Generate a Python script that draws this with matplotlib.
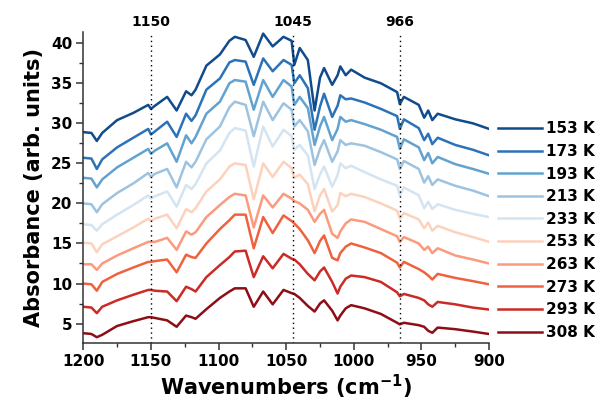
import matplotlib

matplotlib.use("Agg")
import matplotlib.pyplot as plt
from matplotlib.ticker import MultipleLocator

# Wavenumber grid (cm^-1) and absorbance
wavenumbers = [1200, 1194, 1190, 1186, 1175, 1163, 1152, 1150, 1147, 1138,
               1131, 1124, 1120, 1117, 1109, 1099, 1092, 1088, 1080, 1074,
               1067, 1060, 1052, 1046, 1044, 1040, 1034, 1029, 1025, 1022,
               1016, 1012, 1010, 1006, 1002, 992, 980, 968, 966, 963,
               952, 948, 945, 942, 938, 925, 912, 900]

abs_153 = [28.9, 28.8, 27.8, 28.8, 30.4, 31.3, 32.3, 31.8, 32.2, 33.3,
           31.6, 34.0, 33.5, 34.2, 37.2, 38.6, 40.3, 40.8, 40.4, 38.3,
           41.2, 39.6, 40.8, 40.3, 37.3, 39.4, 37.9, 31.6, 35.7, 36.9,
           34.8, 36.0, 37.1, 36.0, 36.7, 35.7, 35.0, 33.9, 32.4, 33.3,
           32.3, 30.7, 31.6, 30.4, 31.2, 30.5, 30.0, 29.3]
abs_173 = [25.7, 25.6, 24.3, 25.5, 27.0, 28.2, 29.3, 28.6, 29.0, 30.2,
           28.3, 31.2, 30.3, 31.0, 34.2, 35.6, 37.6, 37.9, 37.7, 34.8,
           38.1, 36.5, 37.9, 37.3, 35.0, 36.0, 34.4, 29.2, 32.1, 33.7,
           30.8, 32.2, 33.5, 33.0, 33.1, 32.6, 31.8, 30.9, 29.3, 30.5,
           29.4, 27.9, 28.7, 27.4, 28.2, 27.3, 26.7, 26.0]
abs_193 = [23.2, 23.1, 22.0, 23.0, 24.5, 25.7, 26.8, 26.2, 26.6, 27.5,
           25.2, 28.5, 27.5, 28.3, 31.2, 32.7, 35.0, 35.4, 35.2, 31.7,
           35.4, 33.3, 35.4, 34.6, 32.3, 33.3, 31.9, 27.3, 29.6, 30.8,
           27.9, 29.3, 30.8, 30.2, 30.4, 29.9, 29.2, 28.3, 26.8, 28.0,
           27.0, 25.4, 26.3, 25.0, 25.8, 24.9, 24.3, 23.7]
abs_213 = [20.0, 19.9, 18.9, 19.9, 21.3, 22.5, 23.8, 23.3, 23.7, 24.3,
           22.0, 25.2, 24.5, 25.2, 28.0, 29.6, 32.0, 32.7, 32.3, 28.4,
           32.7, 30.4, 32.5, 31.7, 29.6, 30.4, 29.0, 24.8, 26.8, 27.9,
           25.2, 26.5, 27.9, 27.3, 27.5, 27.2, 26.4, 25.5, 24.3, 25.3,
           24.3, 22.6, 23.4, 22.3, 23.0, 22.2, 21.6, 20.9]
abs_233 = [17.4, 17.3, 16.6, 17.4, 18.6, 19.8, 21.0, 20.6, 20.9, 21.5,
           19.6, 22.3, 21.8, 22.4, 25.0, 26.6, 28.8, 29.4, 29.1, 24.6,
           29.6, 27.1, 29.2, 28.4, 26.7, 27.3, 26.0, 21.8, 23.6, 24.6,
           22.1, 23.5, 25.0, 24.4, 24.7, 23.9, 23.0, 22.2, 21.0, 22.0,
           21.0, 19.4, 20.2, 19.3, 19.9, 19.2, 18.7, 18.3]
abs_253 = [15.1, 15.0, 13.9, 14.9, 15.9, 17.0, 18.1, 17.8, 18.1, 18.6,
           16.9, 19.3, 18.9, 19.4, 21.5, 23.0, 24.6, 25.0, 24.8, 20.5,
           25.0, 23.3, 25.2, 24.4, 23.2, 23.6, 22.4, 19.0, 21.0, 21.8,
           19.0, 19.8, 21.3, 20.9, 21.2, 20.8, 20.0, 19.1, 18.1, 18.8,
           18.0, 16.9, 17.6, 16.6, 17.2, 16.4, 15.8, 15.2]
abs_263 = [12.4, 12.4, 11.7, 12.5, 13.5, 14.4, 15.2, 15.2, 15.2, 15.7,
           14.2, 16.5, 16.1, 16.4, 18.3, 19.8, 20.8, 21.2, 21.0, 17.0,
           21.0, 19.5, 21.2, 20.6, 20.3, 20.0, 19.2, 17.7, 18.7, 19.2,
           16.2, 15.7, 16.5, 17.5, 18.0, 17.7, 16.8, 15.9, 15.2, 15.8,
           15.0, 14.2, 14.6, 13.8, 14.4, 13.5, 13.0, 12.5]
abs_273 = [10.0, 9.9, 9.1, 10.2, 11.2, 12.0, 12.7, 12.7, 12.8, 13.0,
           11.4, 13.6, 13.3, 13.2, 15.0, 16.8, 17.9, 18.6, 18.6, 14.4,
           18.3, 16.3, 18.5, 17.8, 17.5, 16.8, 15.4, 13.8, 15.3, 16.0,
           13.2, 12.9, 13.8, 14.6, 15.0, 14.5, 13.8, 12.6, 12.0, 12.7,
           11.8, 11.4, 11.0, 10.5, 11.2, 10.7, 10.3, 9.9]
abs_293 = [7.1, 7.0, 6.3, 7.1, 7.9, 8.6, 9.2, 9.2, 9.1, 9.0,
           7.8, 9.6, 9.3, 9.0, 10.8, 12.3, 13.3, 14.0, 14.1, 10.8,
           13.4, 11.9, 13.7, 13.1, 13.0, 12.4, 11.2, 10.4, 11.5, 12.0,
           10.2, 8.75, 9.6, 10.6, 11.0, 10.8, 10.2, 8.9, 8.4, 8.7,
           8.2, 7.9, 7.4, 7.1, 7.7, 7.4, 7.0, 6.75]
abs_308 = [3.8, 3.7, 3.3, 3.6, 4.7, 5.3, 5.8, 5.8, 5.7, 5.4,
           4.6, 6.0, 5.8, 5.6, 6.8, 8.2, 9.0, 9.4, 9.4, 7.1,
           9.0, 7.4, 9.2, 8.8, 8.7, 8.2, 7.2, 6.5, 7.5, 7.9,
           6.6, 5.4, 6.0, 6.9, 7.3, 6.9, 6.2, 5.1, 4.9, 5.1,
           4.8, 4.6, 4.1, 3.85, 4.5, 4.3, 4.0, 3.7]

temperatures = ["153 K", "173 K", "193 K", "213 K", "233 K",
                "253 K", "263 K", "273 K", "293 K", "308 K"]
spectra = [abs_153, abs_173, abs_193, abs_213, abs_233,
           abs_253, abs_263, abs_273, abs_293, abs_308]
colors = ["#114b8c", "#2c72b8", "#62a2d0", "#9dc3e0", "#d4e4f1",
          "#fcd2bd", "#fb9a7c", "#f0623f", "#cc2a26", "#8e0d16"]

# marked band positions
band_positions = [1150, 1045, 966]

fig = plt.figure(figsize=(5.95, 4.0), dpi=100)
ax = fig.add_axes([0.140, 0.143, 0.682, 0.777])

for label, values, color in zip(temperatures, spectra, colors):
    ax.plot(wavenumbers, values, color=color, linewidth=1.8, label=label)

for band in band_positions:
    ax.axvline(band, color="black", linestyle=(0, (1, 2.5)), linewidth=1.0)
    ax.text(band, 41.8, str(band), ha="center", va="bottom",
            fontsize=10, fontweight="bold")

ax.set_xlim(1200, 900)
ax.set_ylim(2.6, 41.4)
ax.xaxis.set_major_locator(MultipleLocator(50))
ax.xaxis.set_minor_locator(MultipleLocator(25))
ax.yaxis.set_major_locator(MultipleLocator(5))
ax.yaxis.set_minor_locator(MultipleLocator(2.5))

ax.spines["top"].set_visible(False)
ax.spines["right"].set_visible(False)
for side in ["left", "bottom"]:
    ax.spines[side].set_linewidth(1.1)
    ax.spines[side].set_color("#333333")

ax.tick_params(which="major", direction="out", length=5, width=1.1,
               labelsize=11, pad=3, color="#333333")
ax.tick_params(which="minor", direction="out", length=3, width=1.0,
               color="#333333")
for lbl in ax.get_xticklabels() + ax.get_yticklabels():
    lbl.set_fontweight("bold")

ax.set_xlabel("Wavenumbers (cm$^{\\mathbf{-1}}$)", fontsize=15,
              fontweight="bold", labelpad=3)
ax.set_ylabel("Absorbance (arb. units)", fontsize=15, fontweight="bold",
              labelpad=5)

ax.legend(loc="center left", bbox_to_anchor=(1.022, 0.361), frameon=False,
          borderpad=0, borderaxespad=0, handlelength=2.9, handletextpad=0.25,
          labelspacing=0.5, prop={"weight": "bold", "size": 11})

fig.savefig("out.png", dpi=100)
